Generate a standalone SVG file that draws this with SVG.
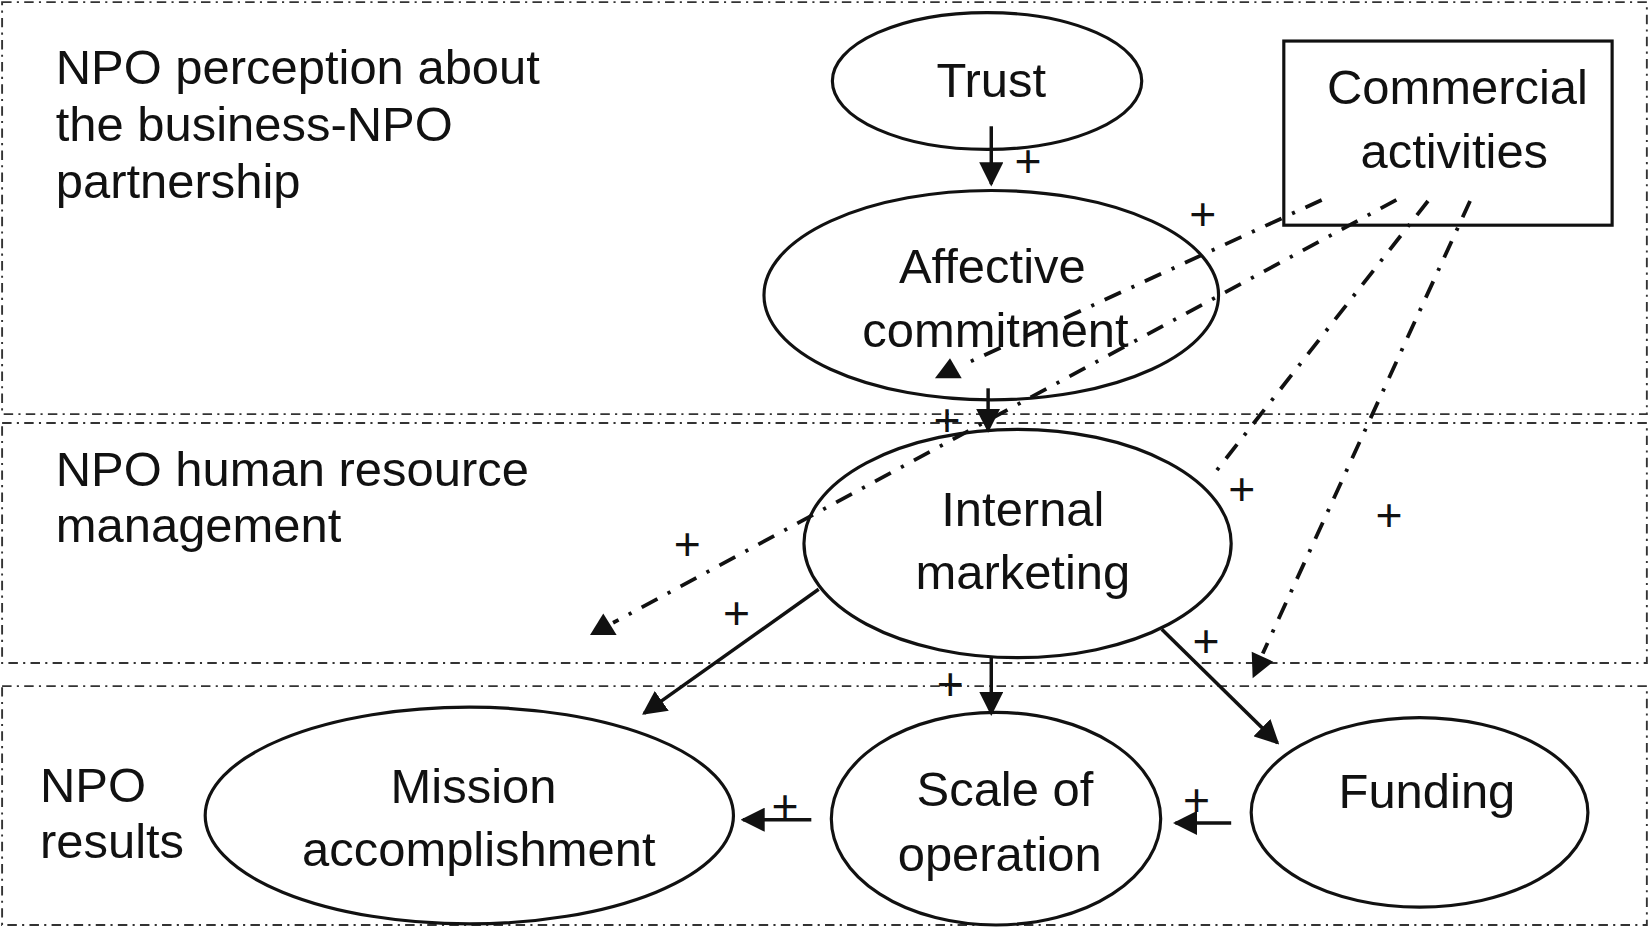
<svg xmlns="http://www.w3.org/2000/svg" width="1650" height="927" viewBox="0 0 1650 927">
<defs>
<style>
.t{font-family:"Liberation Sans",Arial,Helvetica,sans-serif;font-size:46.5px;fill:#111}
.c{text-anchor:middle}
.p{font-family:"Liberation Sans",Arial,Helvetica,sans-serif;font-size:44px;fill:#111;text-anchor:middle}
.n{fill:#fff;stroke:#111;stroke-width:3}
.reg{fill:none;stroke:#333;stroke-width:1.8;stroke-dasharray:9 5 2 5}
.s{fill:none;stroke:#111;stroke-width:3.3}
.d{fill:none;stroke:#111;stroke-width:3.6;stroke-dasharray:17 11 3 11}
.h{fill:#111}
</style>
<marker id="ah" viewBox="0 0 10 10" refX="9" refY="5" markerWidth="23" markerHeight="23" markerUnits="userSpaceOnUse" orient="auto">
<path d="M0,0 L10,5 L0,10 z" fill="#111"/>
</marker>
</defs>
<rect width="1650" height="927" fill="#fff"/>
<g transform="scale(1.05230)">
<g id="regions">
<rect class="reg" x="2" y="2" width="1563" height="391.5"/>
<rect class="reg" x="2" y="402" width="1563" height="228"/>
<rect class="reg" x="2" y="652" width="1563" height="227"/>
<text class="t" x="53" y="80">NPO perception about</text>
<text class="t" x="53" y="134">the business-NPO</text>
<text class="t" x="53" y="188">partnership</text>
<text class="t" x="53" y="462">NPO human resource</text>
<text class="t" x="53" y="515">management</text>
<text class="t" x="38" y="762">NPO</text>
<text class="t" x="38" y="815">results</text>
</g>
<g id="trust">
<ellipse class="n" cx="938" cy="77" rx="147" ry="65"/>
<text class="t c" x="942" y="92">Trust</text>
</g>
<g id="commercial">
<rect class="n" x="1220" y="39" width="312" height="175"/>
<text class="t c" x="1385" y="99">Commercial</text>
<text class="t c" x="1382" y="160">activities</text>
</g>
<g id="affective">
<ellipse class="n" cx="942" cy="280.5" rx="216" ry="99.5"/>
<text class="t c" x="943" y="269">Affective</text>
<text class="t c" x="946" y="330">commitment</text>
</g>
<g id="internal">
<ellipse class="n" cx="967" cy="516.5" rx="203" ry="108.5"/>
<text class="t c" x="972" y="500">Internal</text>
<text class="t c" x="972" y="560">marketing</text>
</g>
<g id="mission">
<ellipse class="n" cx="446" cy="775" rx="251" ry="103"/>
<text class="t c" x="450" y="763">Mission</text>
<text class="t c" x="455" y="823">accomplishment</text>
</g>
<g id="scale">
<ellipse class="n" cx="946.5" cy="778" rx="156.5" ry="101"/>
<text class="t c" x="955" y="766">Scale of</text>
<text class="t c" x="950" y="828">operation</text>
</g>
<g id="funding">
<ellipse class="n" cx="1349" cy="772" rx="160" ry="90"/>
<text class="t c" x="1356" y="768">Funding</text>
</g>
<g id="connectors">
<line class="s" x1="942" y1="120" x2="942" y2="175" marker-end="url(#ah)"/>
<line class="s" x1="939" y1="369" x2="939" y2="409" marker-end="url(#ah)"/>
<line class="s" x1="778" y1="560" x2="612" y2="678" marker-end="url(#ah)"/>
<line class="s" x1="942" y1="625" x2="942" y2="678" marker-end="url(#ah)"/>
<line class="s" x1="1104" y1="598" x2="1214" y2="706" marker-end="url(#ah)"/>
<line class="s" x1="771" y1="779" x2="706" y2="779" marker-end="url(#ah)"/>
<line class="s" x1="1170" y1="782" x2="1117" y2="782" marker-end="url(#ah)"/>
<line class="d" x1="1256" y1="190" x2="917" y2="346"/>
<polygon class="h" points="902.8,340.5 888.5,359.5 913.9,359.5"/>
<line class="d" x1="1327" y1="190" x2="582.6" y2="591.8"/>
<polygon class="h" points="573.3,582.9 560.7,603.4 586,603.4"/>
<line class="d" x1="1357" y1="191" x2="1150" y2="455"/>
<line class="d" x1="1397" y1="191" x2="1200" y2="621"/>
<polygon class="h" points="1189.5,619.3 1210,628.8 1190.4,644.6"/>
<text class="p" x="977" y="168">+</text>
<text class="p" x="900" y="414">+</text>
<text class="p" x="1143" y="219">+</text>
<text class="p" x="1180" y="480">+</text>
<text class="p" x="1320" y="505">+</text>
<text class="p" x="653" y="532">+</text>
<text class="p" x="700" y="598">+</text>
<text class="p" x="903" y="665">+</text>
<text class="p" x="1146" y="624">+</text>
<text class="p" x="746" y="781">+</text>
<text class="p" x="1137" y="775">+</text>
</g>
</g>
</svg>
